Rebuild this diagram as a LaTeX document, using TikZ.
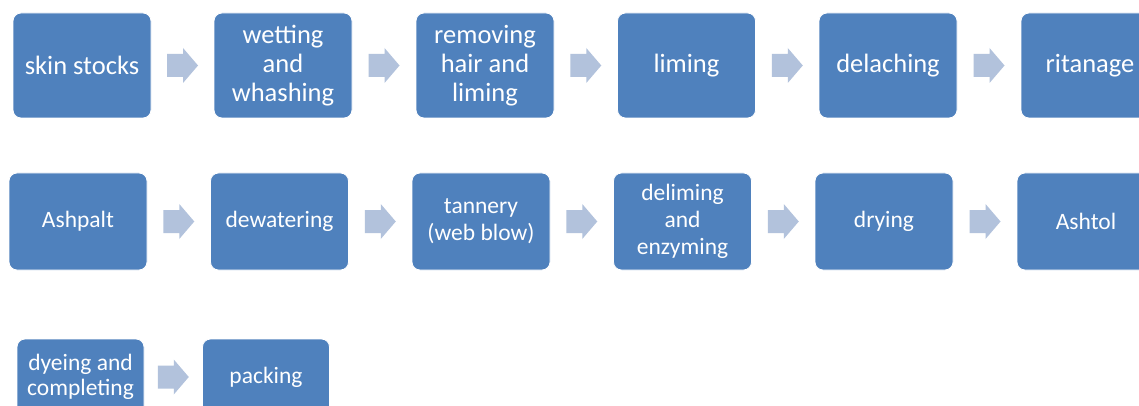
\documentclass[tikz,border=0pt]{standalone}
\usepackage{fontspec}
\setmainfont{Carlito}
\definecolor{boxblue}{RGB}{79,129,189}
\definecolor{arrowblue}{RGB}{178,194,220}
\begin{document}
\begin{tikzpicture}[x=1pt,y=-1pt,
  stepbox/.style={rectangle, rounded corners=8pt, fill=boxblue, draw=white, line width=0.8pt,
    text=white, align=center, inner sep=2pt},
  rowone/.style={stepbox, minimum width=138pt, minimum height=105pt, font=\fontsize{26.5}{28.7}\selectfont},
  rowtwo/.style={stepbox, minimum width=138pt, minimum height=97pt, font=\fontsize{23.5}{27}\selectfont},
  rowthree/.style={stepbox, minimum width=127pt, minimum height=76pt, font=\fontsize{23.5}{25.5}\selectfont},
  flowarr/.pic={\fill[arrowblue] (-15.5,-11.5) -- (0.5,-11.5) -- (0.5,-17.5) -- (15.5,0) -- (0.5,17.5) -- (0.5,11.5) -- (-15.5,11.5) -- cycle;}
]
\clip (0,0) rectangle (1139,406);
\fill[white] (0,0) rectangle (1139,406);
% row 1
\node[rowone] (a1) at (82,65.5) {skin stocks};
\node[rowone] (a2) at (283,65.5) {wetting\\and\\whashing};
\node[rowone] (a3) at (485,65.5) {removing\\hair and\\liming};
\node[rowone] (a4) at (686.5,65.5) {liming};
\node[rowone] (a5) at (888,65.5) {delaching};
\node[rowone] (a6) at (1090,65.5) {ritanage};
% row 2
\node[rowtwo] (b1) at (78,221.5) {Ashpalt};
\node[rowtwo] (b2) at (279.5,221.5) {dewatering};
\node[rowtwo] (b3) at (481,221.5) {tannery\\(web blow)};
\node[rowtwo] (b4) at (682.5,221.5) {deliming\\and\\enzyming};
\node[rowtwo] (b5) at (884,221.5) {drying};
\node[rowtwo] (b6) at (1086,221.5) {Ashtol};
% row 3
\node[rowthree] (c1) at (80.5,377) {dyeing and\\completing};
\node[rowthree] (c2) at (266,377) {packing};
% arrows
\path (a1) -- pic{flowarr} (a2);
\path (a2) -- pic{flowarr} (a3);
\path (a3) -- pic{flowarr} (a4);
\path (a4) -- pic{flowarr} (a5);
\path (a5) -- pic{flowarr} (a6);
\path (b1) -- pic{flowarr} (b2);
\path (b2) -- pic{flowarr} (b3);
\path (b3) -- pic{flowarr} (b4);
\path (b4) -- pic{flowarr} (b5);
\path (b5) -- pic{flowarr} (b6);
\path (c1) -- pic{flowarr} (c2);
\end{tikzpicture}
\end{document}
